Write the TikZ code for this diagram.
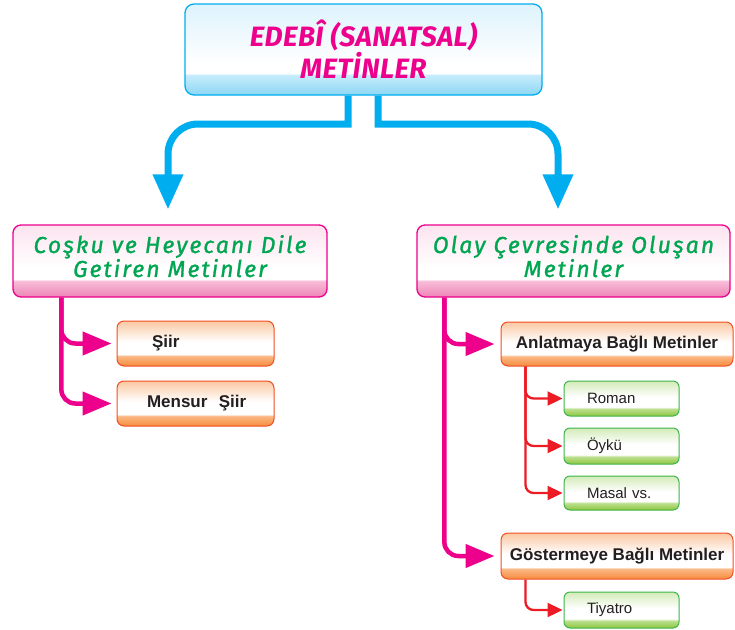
\documentclass[tikz,border=0pt]{standalone}
\usepackage{fontspec}
\setmainfont{Liberation Sans}
\newfontfamily\magfont[LetterSpace=1.5]{Fira Sans}
\newfontfamily\grnfont[LetterSpace=9,FakeBold=1.2]{Fira Sans}
\usetikzlibrary{arrows.meta}
\definecolor{cyanB}{HTML}{00AEEF}
\definecolor{magB}{HTML}{EC008C}
\definecolor{grnT}{HTML}{00A651}
\definecolor{orgB}{HTML}{F04E23}
\definecolor{redL}{HTML}{ED1C24}
\definecolor{grnB}{HTML}{3DB54A}
\definecolor{txt}{HTML}{231F20}
\definecolor{b1}{HTML}{8DD7F5}\definecolor{b2}{HTML}{C6ECFB}\definecolor{b3}{HTML}{DDF3FC}
\definecolor{p1}{HTML}{EE84B6}\definecolor{p2}{HTML}{F8BDD8}\definecolor{p3}{HTML}{FCE3EF}
\definecolor{o1}{HTML}{F68B3E}\definecolor{o2}{HTML}{FBB885}\definecolor{o3}{HTML}{FAC8A2}
\definecolor{g1}{HTML}{8DC63F}\definecolor{g2}{HTML}{BCDF8E}\definecolor{g3}{HTML}{D3EBB8}
\pgfdeclareverticalshading{blueshade}{100bp}{color(0bp)=(b1); color(25bp)=(b1); color(36bp)=(b2); color(37bp)=(white); color(42bp)=(white); color(75bp)=(b3); color(100bp)=(b3)}
\pgfdeclareverticalshading{pinkshade}{100bp}{color(0bp)=(p1); color(25bp)=(p1); color(36bp)=(p2); color(37.5bp)=(white); color(45bp)=(white); color(75bp)=(p3); color(100bp)=(p3)}
\pgfdeclareverticalshading{orgshade}{100bp}{color(0bp)=(o1); color(25bp)=(o1); color(36bp)=(o2); color(38bp)=(white); color(52bp)=(white); color(75bp)=(o3); color(100bp)=(o3)}
\pgfdeclareverticalshading{grnshade}{100bp}{color(0bp)=(g1); color(25bp)=(g1); color(35bp)=(g2); color(38bp)=(white); color(52bp)=(white); color(75bp)=(g3); color(100bp)=(g3)}
\begin{document}
\begin{tikzpicture}[x=1pt,y=-1pt,
  box/.style={draw, inner sep=0pt, anchor=center},
  topbox/.style={box, draw=cyanB, line width=1.3pt, rounded corners=9pt, shading=blueshade,
    minimum width=357pt, minimum height=91pt, align=center, text=magB,
    font=\magfont\bfseries\itshape\fontsize{28}{30}\selectfont},
  catbox/.style={box, draw=magB, line width=1.3pt, rounded corners=8pt, shading=pinkshade,
    minimum width=314pt, minimum height=72pt, align=center, text=grnT, text depth=10pt,
    font=\grnfont\itshape\fontsize{23}{24}\selectfont},
  orgbox/.style={box, draw=orgB, line width=1pt, rounded corners=7pt, shading=orgshade,
    text=txt, font=\bfseries\fontsize{17}{20}\selectfont},
  grnbox/.style={box, draw=grnB, line width=1pt, rounded corners=6pt, shading=grnshade,
    minimum width=115pt, text width=69pt, inner xsep=23pt, align=left,
    text=txt, font=\fontsize{15}{18}\selectfont},
  bluearrow/.style={draw=cyanB, line width=7pt, -{Triangle[width=29pt,length=35pt]}, shorten >=15pt},
  magarrow/.style={draw=magB, line width=4.5pt, rounded corners=14pt, -{Triangle[width=23pt,length=29pt]}},
  redarrow/.style={draw=redL, line width=2.3pt, rounded corners=8pt, -{Triangle[width=14pt,length=15pt]}, shorten >=1pt}
]
\useasboundingbox (0,0) rectangle (735,629);
\node[topbox] (top) at (363.5,49.5) {EDEBÎ (SANATSAL)\\METİNLER};
\node[catbox] (lbox) at (170,261) {Coşku ve Heyecanı Dile\\Getiren Metinler};
\node[catbox, minimum width=313pt] (rbox) at (573.5,261) {Olay Çevresinde Oluşan\\Metinler};
\node[orgbox, minimum width=157pt, minimum height=45pt, text width=125pt, inner xsep=16pt, align=left] (siir) at (195.5,343.5) {\hspace*{19pt}Şiir};
\node[orgbox, minimum width=157pt, minimum height=45pt, text width=125pt, inner xsep=16pt, align=left] (mensur) at (195.5,403.5) {\hspace*{14pt}Mensur\ \ Şiir};
\node[orgbox, minimum width=232pt, minimum height=44pt] (anl) at (617,344) {Anlatmaya Bağlı Metinler};
\node[orgbox, minimum width=232pt, minimum height=46pt] (gos) at (617,556) {Göstermeye Bağlı Metinler};
\node[grnbox, minimum height=35pt] (roman) at (621.5,398.5) {Roman};
\node[grnbox, minimum height=36pt] (oyku) at (621.5,446) {Öykü};
\node[grnbox, minimum height=34pt] (masal) at (621.5,493) {Masal vs.};
\node[grnbox, minimum height=36pt] (tiyatro) at (621.5,610) {Tiyatro};
% blue connectors
\coordinate (bl) at (348,124);
\coordinate (br) at (378,124);
\draw[bluearrow] ([xshift=-15.5pt]top.south) -- (bl) [rounded corners=30pt] -| ([xshift=-2pt]lbox.north);
\draw[bluearrow] ([xshift=14.5pt]top.south) -- (br) [rounded corners=30pt] -| ([xshift=-15.5pt]rbox.north);
% magenta connectors
\draw[magarrow, shorten >=5pt] ([xshift=49pt]lbox.south west) |- (siir.west);
\draw[magarrow, shorten >=5pt] ([xshift=49pt]lbox.south west) |- (mensur.west);
\draw[magarrow, shorten >=6pt] ([xshift=28pt]rbox.south west) |- (anl.west);
\draw[magarrow, shorten >=6pt] ([xshift=28pt]rbox.south west) |- (gos.west);
% red connectors
\draw[redarrow] ([xshift=25pt]anl.south west) |- (roman.west);
\draw[redarrow] ([xshift=25pt]anl.south west) |- (oyku.west);
\draw[redarrow] ([xshift=25pt]anl.south west) |- (masal.west);
\draw[redarrow] ([xshift=25pt]gos.south west) |- (tiyatro.west);
\end{tikzpicture}
\end{document}
